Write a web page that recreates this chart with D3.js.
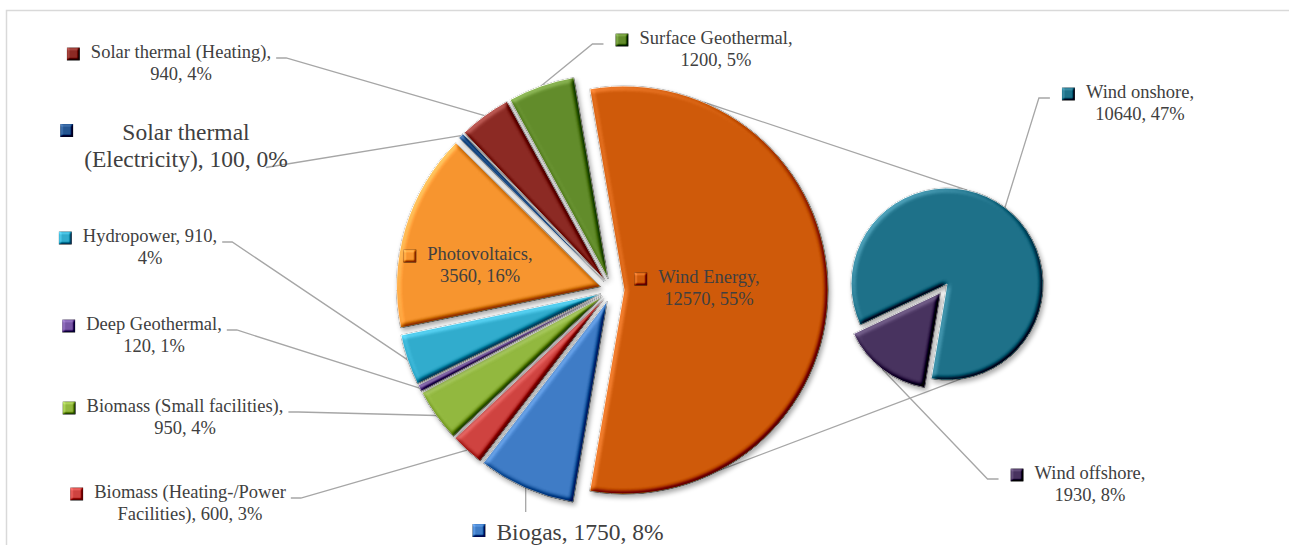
<!DOCTYPE html>
<html>
<head>
<meta charset="utf-8">
<script src="https://cdn.jsdelivr.net/npm/d3@7"></script>
<style>
  body { margin: 0; background: #fff; }
  svg { display: block; font-family: "Liberation Serif", "Times New Roman", serif; }
</style>
</head>
<body>
<div id="chart"></div>
<script>
// main pie, clockwise starting with the "other" slice (Wind Energy) on the right
const mainNames = ["Wind Energy", "Biogas", "Biomass (Heating-/Power Facilities)", "Biomass (Small facilities)",
  "Deep Geothermal", "Hydropower", "Photovoltaics", "Solar thermal (Electricity)", "Solar thermal (Heating)", "Surface Geothermal"];
const mainValues = [12570, 1750, 600, 950, 120, 910, 3560, 100, 940, 1200];
const mainPct = ["55%", "8%", "3%", "4%", "1%", "4%", "16%", "0%", "4%", "5%"];
const mainColors = ["#CF5A0A", "#3F7CC6", "#CF4340", "#92B83F", "#7856A6", "#31ACCD", "#F7952F", "#245591", "#8C2A24", "#628C2B"];

// second pie = split of Wind Energy
const subNames = ["Wind offshore", "Wind onshore"];
const subValues = [1930, 10640];
const subPct = ["8%", "47%"];
const subColors = ["#48335F", "#1E7189"];

const width = 1289, height = 545;
const total = d3.sum(mainValues);

// layout
const mainPie = { cx: 612, cy: 290, r: 204, explode: 12 };
const subPie = { cx: 944, cy: 288, r: 96, explode: [6, 5], startDeg: 189.5 };
const connect = { mainTop: 23, mainBottom: 152, subTop: 12, subBottom: 172 }; // degrees on each rim

// label placement: cx = centre of text block, y = first baseline, words = words on first line
const labelLayout = [
  { name: "Wind Energy", cx: 709, y: 283, fs: 18.5, words: 2, lead: null },
  { name: "Photovoltaics", cx: 480, y: 260, fs: 18.5, words: 1, lead: null },
  { name: "Biogas", cx: 580, y: 540, fs: 23.5, words: 3, lead: "below" },
  { name: "Biomass (Heating-/Power Facilities)", cx: 190, y: 498, fs: 18.5, words: 2, lead: "left" },
  { name: "Biomass (Small facilities)", cx: 185, y: 412, fs: 18.5, words: 3, lead: "left" },
  { name: "Deep Geothermal", cx: 154, y: 330, fs: 18.5, words: 2, lead: "left" },
  { name: "Hydropower", cx: 150, y: 242, fs: 18.5, words: 2, lead: "left" },
  { name: "Solar thermal (Electricity)", cx: 186, y: 140, fs: 23.5, words: 2, lead: "left", leadLine: 1, leadDx: -22, leadH: 0 },
  { name: "Solar thermal (Heating)", cx: 181, y: 58, fs: 18.5, words: 3, lead: "left" },
  { name: "Surface Geothermal", cx: 716, y: 44, fs: 18.5, words: 2, lead: "right" },
  { name: "Wind onshore", cx: 1140, y: 98, fs: 18.5, words: 2, lead: "right" },
  { name: "Wind offshore", cx: 1090, y: 479, fs: 18.5, words: 2, lead: "right" }
];

const svg = d3.select("#chart").append("svg")
  .attr("width", width)
  .attr("height", height);

const defs = svg.append("defs");

// bevel + optional shadow, roughly like the Office 3-D format
function bevelFilter(id, blur, scale, k3, shadow) {
  const f = defs.append("filter").attr("id", id)
    .attr("x", "-20%").attr("y", "-20%").attr("width", "140%").attr("height", "140%")
    .attr("color-interpolation-filters", "sRGB");
  f.append("feGaussianBlur").attr("in", "SourceAlpha").attr("stdDeviation", blur).attr("result", "blur");
  f.append("feDiffuseLighting")
    .attr("in", "blur").attr("surfaceScale", scale)
    .attr("diffuseConstant", 0.5 / Math.sin(Math.PI / 4))
    .attr("lighting-color", "#fff").attr("result", "diff")
    .append("feDistantLight").attr("azimuth", 225).attr("elevation", 45);
  f.append("feComposite").attr("in", "SourceGraphic").attr("in2", "diff")
    .attr("operator", "arithmetic").attr("k1", 0).attr("k2", 1).attr("k3", k3).attr("k4", -k3 / 2)
    .attr("result", "shade");
  f.append("feComposite").attr("in", "shade").attr("in2", "SourceAlpha").attr("operator", "in").attr("result", "bevel");
  if (shadow) {
    f.append("feGaussianBlur").attr("in", "SourceAlpha").attr("stdDeviation", 2.5).attr("result", "sb");
    f.append("feOffset").attr("in", "sb").attr("dx", 1.5).attr("dy", 2.5).attr("result", "so");
    f.append("feComponentTransfer").attr("in", "so").attr("result", "sf")
      .append("feFuncA").attr("type", "linear").attr("slope", 0.35);
    const m = f.append("feMerge");
    m.append("feMergeNode").attr("in", "sf");
    m.append("feMergeNode").attr("in", "bevel");
  }
}
bevelFilter("bevel", 2.6, 4, 0.9, true);
bevelFilter("bevelSmall", 1.3, 3, 0.9, false);

// frame
svg.append("rect")
  .attr("x", 6.5).attr("y", 10.5)
  .attr("width", width + 20).attr("height", height + 20)
  .attr("fill", "none").attr("stroke", "#D9D9D9").attr("stroke-width", 1.5);

// pie data
const mainData = mainNames.map((n, i) => ({ name: n, value: mainValues[i], pct: mainPct[i], color: mainColors[i] }));
const subData = subNames.map((n, i) => ({ name: n, value: subValues[i], pct: subPct[i], color: subColors[i] }));

const windAngle = 2 * Math.PI * mainValues[0] / total;
const mainStart = Math.PI / 2 - windAngle / 2;
const mainArcs = d3.pie().sort(null).value(d => d.value)
  .startAngle(mainStart).endAngle(mainStart + 2 * Math.PI)(mainData);

const subStart = subPie.startDeg * Math.PI / 180;
const subArcs = d3.pie().sort(null).value(d => d.value)
  .startAngle(subStart).endAngle(subStart + 2 * Math.PI)(subData);

const mid = d => (d.startAngle + d.endAngle) / 2;
const apex = (d, pie, e) => [pie.cx + e * Math.sin(mid(d)), pie.cy - e * Math.cos(mid(d))];

mainArcs.forEach(d => { d.pie = mainPie; d.apex = apex(d, mainPie, mainPie.explode); });
subArcs.forEach((d, i) => { d.pie = subPie; d.apex = apex(d, subPie, subPie.explode[i]); });

const allArcs = mainArcs.concat(subArcs);
const byName = new Map(allArcs.map(d => [d.data.name, d]));

const rimPoint = (d, deg) => {
  const a = deg * Math.PI / 180;
  return [d.apex[0] + d.pie.r * Math.sin(a), d.apex[1] - d.pie.r * Math.cos(a)];
};

// connector lines between the two pies
const lineGrey = "#A6A6A6";
const windSlice = byName.get("Wind Energy");
const onshore = byName.get("Wind onshore");
const connectors = [
  [rimPoint(windSlice, connect.mainTop), rimPoint(onshore, connect.subTop)],
  [rimPoint(windSlice, connect.mainBottom), rimPoint(onshore, connect.subBottom)]
];
svg.append("g").attr("class", "connectors")
  .selectAll("line").data(connectors).join("line")
  .attr("x1", d => d[0][0]).attr("y1", d => d[0][1])
  .attr("x2", d => d[1][0]).attr("y2", d => d[1][1])
  .attr("stroke", lineGrey).attr("stroke-width", 1.3);

const leaderG = svg.append("g").attr("class", "leaders");

// slices
const slicesG = svg.append("g").attr("class", "slices");
slicesG.selectAll("path").data(allArcs).join("path")
  .attr("transform", d => `translate(${d.apex[0]},${d.apex[1]})`)
  .attr("d", d => d3.arc().innerRadius(0).outerRadius(d.pie.r)(d))
  .attr("fill", d => d.data.color)
  .attr("stroke", "#fff").attr("stroke-width", 0.8)
  .attr("filter", "url(#bevel)");

// labels
const labelG = svg.append("g").attr("class", "labels");
const lineGen = d3.line();

labelLayout.forEach(l => {
  const d = byName.get(l.name);
  const full = `${d.data.name}, ${d.data.value}, ${d.data.pct}`;
  const words = full.split(" ");
  const lines = [words.slice(0, l.words).join(" "), words.slice(l.words).join(" ")].filter(s => s.length);
  const lh = l.fs * 1.17;

  const g = labelG.append("g");
  const texts = g.selectAll("text").data(lines).join("text")
    .attr("x", l.cx)
    .attr("y", (s, i) => l.y + i * lh)
    .attr("text-anchor", "middle")
    .attr("font-size", l.fs)
    .attr("fill", "#404040")
    .text(s => s);

  const widths = texts.nodes().map(n => n.getComputedTextLength());
  const maxW = d3.max(widths);
  const mSize = 13;
  const mRight = l.cx - maxW / 2 - 11;
  const mCy = l.y - (4 + (l.fs - 18.5) * 1.1);

  g.append("rect")
    .attr("x", mRight - mSize).attr("y", mCy - mSize / 2)
    .attr("width", mSize).attr("height", mSize)
    .attr("fill", d.data.color)
    .attr("filter", "url(#bevelSmall)");

  if (!l.lead) return;
  const r = d.pie.r;
  const rim = d3.arc().innerRadius(r).outerRadius(r).centroid(d);
  const anchor = [d.apex[0] + rim[0], d.apex[1] + rim[1]];
  let pts;
  if (l.lead === "left") {
    const li = l.leadLine || 0;
    const y = l.y + li * lh;
    const x0 = l.cx + widths[li] / 2 + (l.leadDx != null ? l.leadDx : 5);
    const h = l.leadH != null ? l.leadH : 10;
    pts = [[x0, y], [x0 + h, y], anchor];
  } else if (l.lead === "right") {
    const x0 = mRight - mSize - 12;
    pts = [[x0, l.y], [x0 - 11, l.y], anchor];
  } else {
    pts = [anchor, [anchor[0], l.y - 28]];
  }
  leaderG.append("path")
    .attr("d", lineGen(pts))
    .attr("fill", "none")
    .attr("stroke", lineGrey)
    .attr("stroke-width", 1.3);
});
</script>
</body>
</html>
